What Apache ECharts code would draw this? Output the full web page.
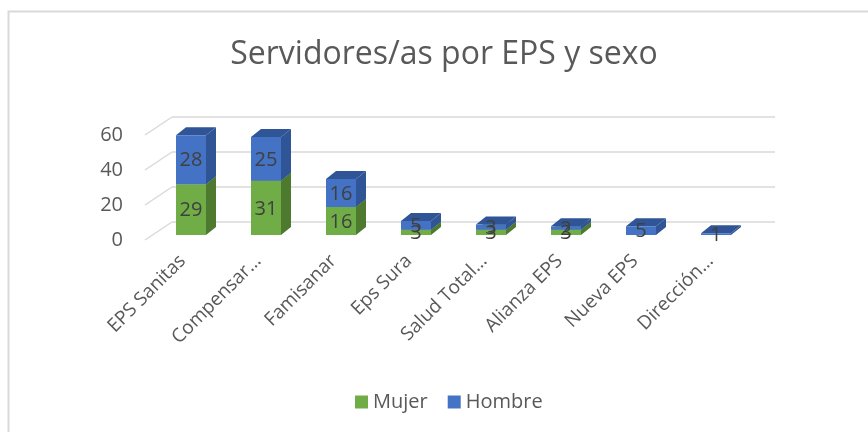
<!DOCTYPE html>
<html>
<head>
<meta charset="utf-8">
<script src="https://cdn.jsdelivr.net/npm/echarts@6/dist/echarts.min.js"></script>
<style>html,body{margin:0;padding:0;background:#fff;}#c{width:868px;height:432px;}</style>
</head>
<body>
<div id="c"></div>
<script>
const categories = ['EPS Sanitas', 'Compensar…', 'Famisanar', 'Eps Sura', 'Salud Total…', 'Alianza EPS', 'Nueva EPS', 'Dirección…'];
const mujer = [29, 31, 16, 3, 3, 3, 0, 0];
const hombre = [28, 25, 16, 5, 3, 2, 5, 1];
const yTicks = [0, 20, 40, 60];

const FONT = "'Open Sans', 'Noto Sans', sans-serif";
const TXT = '#595959';
const GRIDC = '#d9d9d9';
const DEPTH = [27, -18];   // wall depth
const BDEPTH = [10, -8];   // bar depth

const colors = {
  Mujer: { front: '#70AD47', side: '#4E7A2F', top: '#5B9139' },
  Hombre: { front: '#4472C4', side: '#2F5597', top: '#2F5597' }
};

function barRender(name) {
  const c = colors[name];
  return function (params, api) {
    const lo = api.value(1), hi = api.value(2);
    if (hi - lo <= 0) return null;
    const p0 = api.coord([api.value(0), lo]);
    const p1 = api.coord([api.value(0), hi]);
    const bw = api.size([1, 0])[0] * 0.4;
    const x0 = p0[0] - bw / 2, x1 = p0[0] + bw / 2;
    const yb = p0[1], yt = p1[1];
    const dx = BDEPTH[0], dy = BDEPTH[1];
    return {
      type: 'group',
      children: [
        { type: 'polygon', shape: { points: [[x1, yb], [x1 + dx, yb + dy], [x1 + dx, yt + dy], [x1, yt]] }, style: { fill: c.side } },
        { type: 'polygon', shape: { points: [[x0, yt], [x1, yt], [x1 + dx, yt + dy], [x0 + dx, yt + dy]] }, style: { fill: c.top } },
        { type: 'rect', shape: { x: x0, y: yt, width: bw, height: yb - yt }, style: { fill: c.front } }
      ]
    };
  };
}

const option = {
  animation: false,
  backgroundColor: '#fff',
  graphic: [
    { type: 'rect', shape: { x: 8.5, y: 11.5, width: 900, height: 500 }, style: { fill: 'none', stroke: GRIDC, lineWidth: 2 }, silent: true }
  ],
  title: {
    text: 'Servidores/as por EPS y sexo',
    left: 439, textAlign: 'center', top: 34,
    textStyle: { fontFamily: FONT, fontSize: 32, fontWeight: 'normal', color: TXT }
  },
  legend: {
    data: ['Mujer', 'Hombre'],
    left: 350, top: 387,
    itemWidth: 13, itemHeight: 13, itemGap: 20, icon: 'rect',
    textStyle: { fontFamily: FONT, fontSize: 20, color: TXT }
  },
  grid: [
    { left: 145, top: 135, width: 603, height: 105 },   // front plane (labels)
    { left: 172, top: 117, width: 603, height: 105 },   // back wall (gridlines)
    { left: 153.5, top: 130, width: 600, height: 105 }  // bar plane
  ],
  xAxis: [
    { gridIndex: 0, type: 'category', data: categories, axisLine: { show: false }, axisTick: { show: false },
      axisLabel: { rotate: 45, interval: 0, margin: 18, fontFamily: FONT, fontSize: 19, color: TXT } },
    { gridIndex: 1, type: 'value', min: 0, max: 1, show: false },
    { gridIndex: 2, type: 'category', data: categories, show: false }
  ],
  yAxis: [
    { gridIndex: 0, type: 'value', min: 0, max: 60, interval: 20, splitLine: { show: false },
      axisLine: { show: false }, axisTick: { show: false },
      axisLabel: { margin: 22, fontFamily: FONT, fontSize: 20, color: TXT } },
    { gridIndex: 1, type: 'value', min: 0, max: 60, interval: 20,
      axisLine: { show: false }, axisTick: { show: false }, axisLabel: { show: false },
      splitLine: { lineStyle: { color: GRIDC, width: 1.5 } } },
    { gridIndex: 2, type: 'value', min: 0, max: 60, interval: 20, show: false }
  ],
  series: [
    {
      type: 'custom', name: 'diagonals', xAxisIndex: 1, yAxisIndex: 1, silent: true,
      data: yTicks.map(v => [0, v]),
      renderItem: function (params, api) {
        const p = api.coord([0, api.value(1)]);
        return { type: 'line', shape: { x1: p[0], y1: p[1], x2: p[0] - DEPTH[0], y2: p[1] - DEPTH[1] },
          style: { stroke: GRIDC, lineWidth: 1.5 } };
      }
    },
    {
      type: 'custom', name: 'Mujer', xAxisIndex: 2, yAxisIndex: 2,
      itemStyle: { color: colors.Mujer.front },
      data: mujer.map((v, i) => [i, 0, v]),
      renderItem: barRender('Mujer')
    },
    {
      type: 'custom', name: 'Hombre', xAxisIndex: 2, yAxisIndex: 2,
      itemStyle: { color: colors.Hombre.front },
      data: hombre.map((v, i) => [i, mujer[i], mujer[i] + v]),
      renderItem: barRender('Hombre')
    },
    {
      type: 'custom', name: 'labels', xAxisIndex: 2, yAxisIndex: 2, z: 10, silent: true,
      data: categories.map((c, i) => [i, mujer[i], hombre[i]]),
      renderItem: function (params, api) {
        const i = api.value(0), m = api.value(1), h = api.value(2);
        const kids = [];
        const segs = [[0, m], [m, m + h]];
        segs.forEach(function (s) {
          if (s[1] - s[0] <= 0) return;
          const a = api.coord([i, s[0]]), b = api.coord([i, s[1]]);
          kids.push({ type: 'text', x: a[0], y: (a[1] + b[1]) / 2 + 1,
            style: { text: String(s[1] - s[0]), fill: '#404040', fontFamily: FONT, fontSize: 20,
              textAlign: 'center', textVerticalAlign: 'middle' } });
        });
        return { type: 'group', children: kids };
      }
    }
  ]
};

const chart = echarts.init(document.getElementById('c'));
chart.setOption(option);
</script>
</body>
</html>
